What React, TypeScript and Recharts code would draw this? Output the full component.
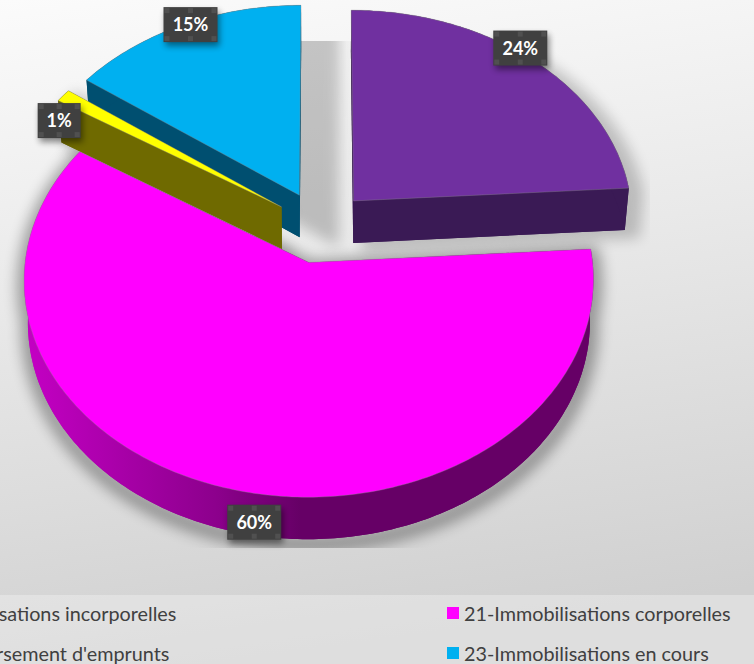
import { PieChart, Pie, Legend } from 'recharts'

const categories = [
  '20-Immobilisations incorporelles',
  '21-Immobilisations corporelles',
  "16-Remboursement d'emprunts",
  '23-Immobilisations en cours',
]
const shares = [24, 60, 1, 15]

const topColors = ['#7030a0', '#ff00ff', '#ffff00', '#00b0f0']
const sideColors = ['#3a1a55', 'url(#magentaSide)', '#6f6a00', '#004f70']
// nudge of each label away from its slice's outer edge, in px
const labelNudges = [
  [-11, -11],
  [23, 33],
  [-4, 25],
  [7, 0],
]
// shadow of each slice: shift to the right, spread and strength
const shadowShifts = [12, 1, 8, 36]
const shadowSpreads = [6, 16, 6, 6]
const shadowStrengths = [0.2, 0.33, 0.2, 0.2]

const TILT = 0.75
const PERSPECTIVE = 0.08
const EXPLODE = 0.172
const DEPTH = 42
const DEPTH_SHRINK = 0.987

// arcs go the other way round so the slices stack back to front
const rows = categories
  .map((name, i) => ({ name, share: shares[i], index: i }))
  .reverse()

const rad = (deg: number) => (deg * Math.PI) / 180

// a point on the pie's plane to the screen, front of the pie comes out bigger
function project(p: any, mid: number, deg: number, r: number, lowered = false) {
  const u = EXPLODE * Math.cos(rad(mid)) + r * Math.cos(rad(deg))
  const v = -EXPLODE * Math.sin(rad(mid)) - r * Math.sin(rad(deg))
  const w = 1 - PERSPECTIVE * v
  const dx = (p.outerRadius * u) / w
  const y = p.cy + (p.outerRadius * TILT * v) / w
  if (lowered) return [p.cx + dx * DEPTH_SHRINK, y + DEPTH]
  return [p.cx + dx, y]
}

function arcPoints(p: any, lowered = false) {
  const pts = []
  const n = Math.ceil(Math.abs(p.endAngle - p.startAngle))
  for (let i = 0; i <= n; i++) {
    const deg = p.startAngle + ((p.endAngle - p.startAngle) * i) / n
    pts.push(project(p, p.midAngle, deg, 1, lowered))
  }
  return pts
}

const toPath = (pts: number[][]) =>
  'M' + pts.map((q) => q[0].toFixed(1) + ' ' + q[1].toFixed(1)).join('L') + 'Z'

function extruded(p: any) {
  const top = arcPoints(p)
  const low = arcPoints(p, true)
  const apexTop = project(p, p.midAngle, 0, 0)
  const apexLow = project(p, p.midAngle, 0, 0, true)
  return {
    topFace: toPath([apexTop, ...top]),
    lowFace: toPath([apexLow, ...low]),
    rim: toPath([...top, ...low.slice().reverse()]),
    wallA: toPath([apexTop, top[0], low[0], apexLow]),
    wallB: toPath([apexTop, top[top.length - 1], low[low.length - 1], apexLow]),
  }
}

function SliceShadow(p: any) {
  const f = extruded(p)
  const i = p.payload.index
  return (
    <g clipPath="url(#shadowClip)">
      <path
        d={f.topFace + f.lowFace + f.rim}
        transform={`translate(${shadowShifts[i]} 5)`}
        fill="#000"
        stroke="#000"
        strokeWidth={shadowSpreads[i]}
        strokeLinejoin="round"
        opacity={shadowStrengths[i]}
        filter="url(#softShadow)"
      />
    </g>
  )
}

function Slice(p: any) {
  const f = extruded(p)
  const i = p.payload.index
  const side = sideColors[i]
  return (
    <g>
      <path d={f.lowFace} fill={side} />
      <path d={f.wallA} fill={side} />
      <path d={f.wallB} fill={side} />
      <path d={f.rim} fill={side} />
      <path d={f.topFace} fill={topColors[i]} stroke="#8a8a8a" strokeOpacity={0.55} strokeWidth={0.7} />
    </g>
  )
}

function SliceLabel(p: any) {
  const i = p.payload.index
  const edge = project(p, p.midAngle, p.midAngle, 1)
  const cx = edge[0] + labelNudges[i][0]
  const cy = edge[1] + labelNudges[i][1]
  const text = p.payload.share + '%'
  const w = text.length > 2 ? 54 : 43
  const h = 35
  const handles = [
    [0, 0],
    [0.5, 0],
    [1, 0],
    [0, 1],
    [0.5, 1],
    [1, 1],
  ]
  return (
    <g>
      <rect x={cx - w / 2 + 2} y={cy - h / 2 + 4} width={w} height={h} fill="#000" opacity={0.45} filter="url(#labelShadow)" />
      <rect x={cx - w / 2} y={cy - h / 2} width={w} height={h} fill="#404040" />
      {handles.map((q, k) => (
        <rect
          key={k}
          x={cx - w / 2 + 1 + (w - 7) * q[0]}
          y={cy - h / 2 + 1 + (h - 7) * q[1]}
          width={5}
          height={5}
          fill="#505050"
        />
      ))}
      <text
        x={cx}
        y={cy + 6.5}
        textAnchor="middle"
        fill="#fff"
        style={{ fontFamily: 'Lato', fontWeight: 700, fontSize: 18 }}
      >
        {text}
      </text>
    </g>
  )
}

function LegendBlock() {
  return (
    <div style={{ position: 'relative', width: 877, height: 69, fontFamily: 'Lato', fontSize: 19.8, color: '#404040' }}>
      {categories.map((name, i) => (
        <div
          key={name}
          style={{
            position: 'absolute',
            left: i % 2 === 0 ? 0 : 570,
            top: i < 2 ? 6 : 46,
            display: 'flex',
            alignItems: 'center',
            whiteSpace: 'nowrap',
            height: 24,
          }}
        >
          <span style={{ width: 12, height: 12, background: topColors[i], marginRight: 5 }} />
          {name}
        </div>
      ))}
    </div>
  )
}

export default function App() {
  return (
    <div
      style={{
        position: 'absolute',
        left: 0,
        top: 0,
        width: 754,
        height: 664,
        overflow: 'hidden',
        background: 'linear-gradient(172deg, #fbfbfb 0%, #e9e9e9 40%, #d0d0d0 90%)',
      }}
    >
      <PieChart width={754} height={664} margin={{ top: 0, right: 0, bottom: 0, left: 0 }}>
        <defs>
          <filter id="softShadow" x="-20%" y="-20%" width="140%" height="140%">
            <feGaussianBlur stdDeviation="7" />
          </filter>
          <filter id="labelShadow" x="-30%" y="-30%" width="160%" height="160%">
            <feGaussianBlur stdDeviation="3" />
          </filter>
          <clipPath id="shadowClip">
            <rect x={0} y={41} width={650} height={507} />
          </clipPath>
          <linearGradient id="magentaSide" x1="0" y1="0" x2="1" y2="0">
            <stop offset="0" stopColor="#c400c4" />
            <stop offset="0.34" stopColor="#8c008c" />
            <stop offset="0.485" stopColor="#660066" />
            <stop offset="1" stopColor="#660066" />
          </linearGradient>
        </defs>
        <Pie
          data={rows}
          dataKey="share"
          nameKey="name"
          cx={321}
          cy={227}
          outerRadius={280}
          startAngle={90}
          endAngle={450}
          stroke="none"
          shape={SliceShadow}
          isAnimationActive={false}
          legendType="none"
        />
        <Pie
          data={rows}
          dataKey="share"
          nameKey="name"
          cx={321}
          cy={227}
          outerRadius={280}
          startAngle={90}
          endAngle={450}
          stroke="none"
          shape={Slice}
          label={SliceLabel}
          labelLine={false}
          isAnimationActive={false}
          legendType="none"
        />
        <Legend
          content={LegendBlock}
          wrapperStyle={{
            position: 'absolute',
            left: -123,
            top: 595,
            bottom: 'auto',
            width: 877,
            height: 69,
            background: 'rgba(255,255,255,0.3)',
          }}
        />
      </PieChart>
    </div>
  )
}
